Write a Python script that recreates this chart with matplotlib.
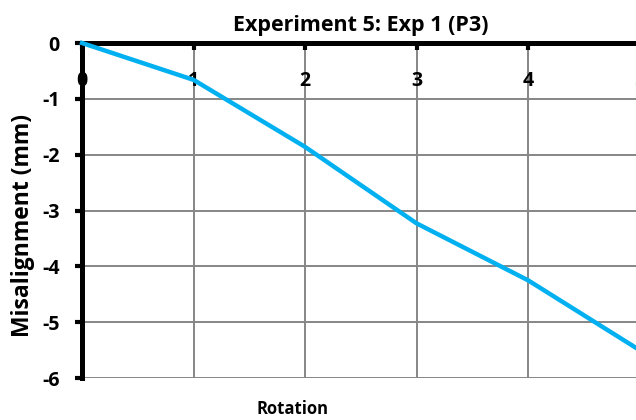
import matplotlib
matplotlib.use("Agg")
import matplotlib.pyplot as plt

rotation = [0, 1, 2, 3, 4, 5]
misalignment = [0.0, -0.66, -1.86, -3.23, -4.25, -5.5]
x_ticks = [0, 1, 2, 3, 4, 5]
y_ticks = [0, -1, -2, -3, -4, -5, -6]

plt.rcParams['font.family'] = ['Open Sans', 'DejaVu Sans']
plt.rcParams['font.weight'] = 'bold'
plt.rcParams['axes.unicode_minus'] = False

fig = plt.figure(figsize=(6.36, 4.2), dpi=100)
ax = fig.add_axes([0.129, 0.1, 0.8766, 0.7976])

ax.plot(rotation, misalignment, color='#00B0F0', linewidth=3.2, zorder=5, clip_on=False)

ax.set_xlim(0, 5)
ax.set_ylim(-6, 0)
ax.set_xticks(x_ticks)
ax.set_yticks(y_ticks)

ax.grid(True, color='#868686', linewidth=1.4)
ax.set_axisbelow(True)

ax.spines['top'].set_visible(False)
ax.spines['right'].set_visible(False)
ax.spines['bottom'].set_position(('data', 0))
ax.spines['bottom'].set_linewidth(3.6)
ax.spines['left'].set_linewidth(3.6)
ax.spines['bottom'].set_zorder(4)
ax.spines['left'].set_zorder(4)

ax.tick_params(axis='x', direction='out', length=5, width=3, pad=15, labelsize=14)
ax.tick_params(axis='y', direction='out', length=5, width=3, pad=11, labelsize=14)
for lbl in ax.get_xticklabels() + ax.get_yticklabels():
    lbl.set_fontweight('bold')

ax.set_title('Experiment 5: Exp 1 (P3)', fontsize=15.5, fontweight='bold', pad=9)
ax.set_ylabel('Misalignment (mm)', fontsize=16.5, fontweight='bold')
ax.yaxis.set_label_coords(-0.084, 0.454)
ax.set_xlabel('Rotation', fontsize=12, fontweight='bold')
ax.xaxis.set_label_coords(0.377, -0.066)

fig.savefig('out.png', dpi=100)
